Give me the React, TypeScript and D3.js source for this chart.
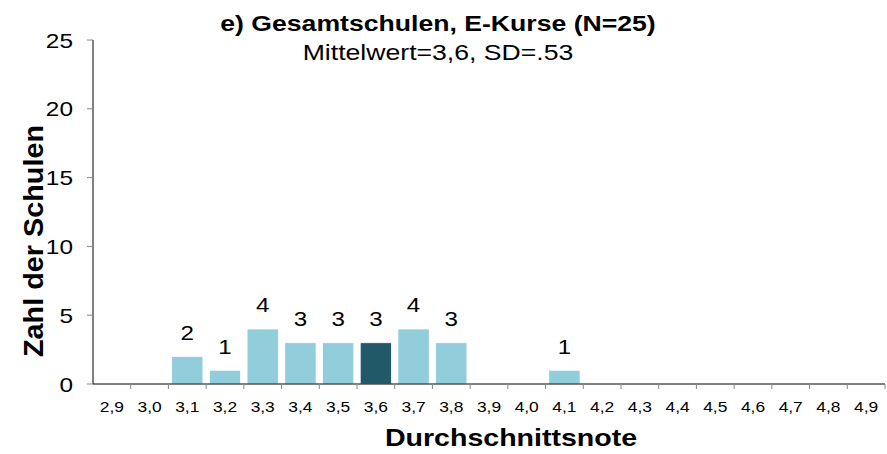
import * as d3 from "d3";

const categories = [
  "2,9", "3,0", "3,1", "3,2", "3,3", "3,4", "3,5", "3,6", "3,7", "3,8", "3,9",
  "4,0", "4,1", "4,2", "4,3", "4,4", "4,5", "4,6", "4,7", "4,8", "4,9",
];
const counts = [0, 0, 2, 1, 4, 3, 3, 3, 4, 3, 0, 0, 1, 0, 0, 0, 0, 0, 0, 0, 0];
const meanCategory = "3,6";
const yTicks = [0, 5, 10, 15, 20, 25];

const W = 887;
const H = 454;
const margin = { left: 93, right: 2, top: 40, bottom: 70 };
const font = "'Liberation Sans', Arial, sans-serif";
// the original picture is stretched horizontally, so text is widened too
const SX = 1.2;

const Label = ({
  x,
  y,
  size,
  bold,
  sx = SX,
  anchor = "middle",
  children,
}: {
  x: number;
  y: number;
  size: number;
  bold?: boolean;
  sx?: number;
  anchor?: string;
  children: React.ReactNode;
}) => (
  <text
    transform={`translate(${x},${y}) scale(${sx},1)`}
    textAnchor={anchor}
    fontSize={size}
    fontWeight={bold ? "bold" : "normal"}
    fill="#000"
  >
    {children}
  </text>
);

const App = () => {
  const x = d3
    .scaleBand<string>()
    .domain(categories)
    .range([margin.left, W - margin.right])
    .paddingInner(0.17)
    .paddingOuter(0.085);
  const step = x.step();
  const y = d3.scaleLinear().domain([0, 25]).range([H - margin.bottom, margin.top]);
  const y0 = y(0);

  return (
    <svg
      width={W}
      height={H}
      style={{ position: "absolute", left: 0, top: 0, fontFamily: font }}
    >
      <rect width={W} height={H} fill="#fff" />
      <Label x={438} y={31} size={22} bold sx={1.21}>
        e) Gesamtschulen, E-Kurse (N=25)
      </Label>
      <Label x={438} y={60} size={22} sx={1.21}>
        Mittelwert=3,6, SD=.53
      </Label>

      {/* y axis */}
      <line x1={margin.left} x2={margin.left} y1={margin.top} y2={y0} stroke="#000" />
      {yTicks.map((t) => (
        <g key={t}>
          <line x1={margin.left - 6} x2={margin.left} y1={y(t)} y2={y(t)} stroke="#888" />
          <Label x={73} y={y(t) + 7.5} size={20} sx={1.22} anchor="end">
            {t}
          </Label>
        </g>
      ))}
      <text
        transform={`translate(43,241) rotate(-90)`}
        textAnchor="middle"
        fontSize={28}
        fontWeight="bold"
        textLength={232}
        lengthAdjust="spacingAndGlyphs"
      >
        Zahl der Schulen
      </text>

      {/* bars */}
      {categories.map((c, i) =>
        counts[i] > 0 ? (
          <g key={c}>
            <rect
              x={x(c)}
              y={y(counts[i])}
              width={x.bandwidth()}
              height={y0 - y(counts[i])}
              fill={c === meanCategory ? "#215968" : "#92CDDC"}
              stroke="#fff"
              strokeWidth={0.8}
            />
            <Label
              x={(x(c) ?? 0) + x.bandwidth() / 2}
              y={y(counts[i]) - 16.5}
              size={21}
              sx={1.15}
            >
              {counts[i]}
            </Label>
          </g>
        ) : null
      )}

      {/* x axis */}
      <line x1={margin.left} x2={W - margin.right} y1={y0} y2={y0} stroke="#000" />
      {categories.map((c, i) => (
        <g key={c}>
          <line
            x1={margin.left + step * (i + 1)}
            x2={margin.left + step * (i + 1)}
            y1={y0}
            y2={y0 + 5}
            stroke="#888"
          />
          <Label x={(x(c) ?? 0) + x.bandwidth() / 2} y={y0 + 27.5} size={14.5}>
            {c}
          </Label>
        </g>
      ))}
      <Label x={511} y={446} size={24} bold sx={1.19}>
        Durchschnittsnote
      </Label>
    </svg>
  );
};

export default App;
